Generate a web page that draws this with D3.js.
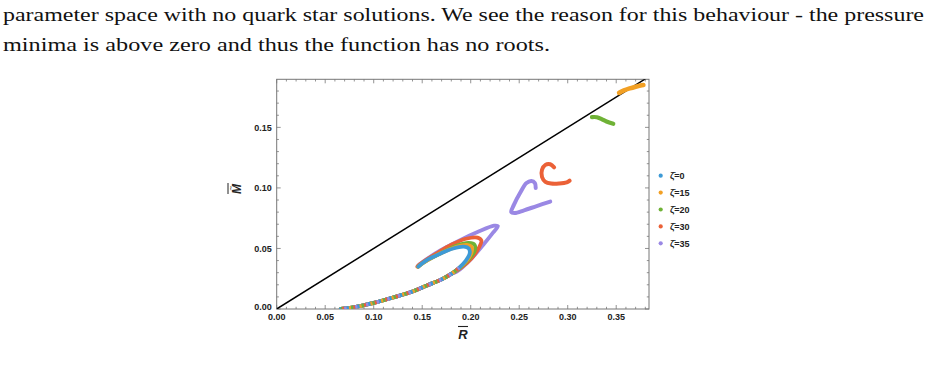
<!DOCTYPE html>
<html><head><meta charset="utf-8">
<script src="https://cdn.jsdelivr.net/npm/d3@7"></script>
<style>body{margin:0;background:#fff}svg{display:block}</style>
</head><body>
<svg id="c" width="929" height="374"></svg>
<script>
// ---- data ----
const seriesNames = ["ζ̄=0", "ζ̄=15", "ζ̄=20", "ζ̄=30", "ζ̄=35"];
const seriesColors = ["#3d9ad6", "#f2a024", "#6fb236", "#eb6137", "#9a88e4"];
const xTicks = [0, 0.05, 0.10, 0.15, 0.20, 0.25, 0.30, 0.35];
const yTicks = [0, 0.05, 0.10, 0.15];
const lineR = [0, 0.38];
const lineM = [0, 0.19];

// shared lower branch
const baseR = [0.066, 0.08, 0.10, 0.12, 0.14, 0.155, 0.17, 0.18];
const baseM = [0.000, 0.0015, 0.005, 0.0095, 0.0145, 0.0195, 0.0245, 0.029];

// zeta = 0 (blue)
const z0R = [0.188, 0.195, 0.199, 0.198, 0.193, 0.182, 0.168, 0.156, 0.149, 0.146];
const z0M = [0.034, 0.040, 0.046, 0.050, 0.0515, 0.050, 0.0455, 0.041, 0.037, 0.035];
// zeta = 15 (orange)
const z15R = [0.188, 0.196, 0.201, 0.201, 0.196, 0.184, 0.169, 0.157, 0.149, 0.146];
const z15M = [0.034, 0.040, 0.047, 0.051, 0.053, 0.051, 0.046, 0.041, 0.037, 0.035];
const z15bR = [0.353, 0.358, 0.364, 0.370, 0.375, 0.378];
const z15bM = [0.1785, 0.1805, 0.1822, 0.1836, 0.1846, 0.1850];
// zeta = 20 (green)
const z20R = [0.189, 0.198, 0.204, 0.204, 0.198, 0.186, 0.170, 0.157, 0.149, 0.146];
const z20M = [0.034, 0.041, 0.048, 0.053, 0.0545, 0.0525, 0.0465, 0.041, 0.037, 0.035];
const z20bR = [0.325, 0.330, 0.335, 0.340, 0.347];
const z20bM = [0.1585, 0.1584, 0.1568, 0.1548, 0.1530];
// zeta = 30 (red)
const z30R = [0.190, 0.201, 0.208, 0.211, 0.207, 0.195, 0.180, 0.165, 0.153, 0.147, 0.145];
const z30M = [0.034, 0.042, 0.050, 0.0565, 0.0590, 0.0580, 0.053, 0.046, 0.040, 0.0365, 0.035];
const z30bR = [0.286, 0.282, 0.277, 0.2735, 0.2735, 0.277, 0.283, 0.291, 0.299, 0.302];
const z30bM = [0.1170, 0.1195, 0.1190, 0.1150, 0.1090, 0.1050, 0.1036, 0.1036, 0.1045, 0.1060];
// zeta = 35 (purple)
const z35R = [0.186, 0.200, 0.213, 0.223, 0.228, 0.224, 0.207, 0.188, 0.170, 0.157, 0.149, 0.146];
const z35M = [0.031, 0.041, 0.053, 0.063, 0.0685, 0.0688, 0.0635, 0.0565, 0.049, 0.0425, 0.038, 0.036];
const z35bR = [0.2670, 0.2662, 0.2625, 0.2575, 0.2510, 0.2445, 0.2418, 0.2455, 0.2550, 0.2680, 0.2820];
const z35bM = [0.1000, 0.1040, 0.1057, 0.1040, 0.0960, 0.0860, 0.0800, 0.0793, 0.0815, 0.0850, 0.0887];

// ---- drawing ----
const svg = d3.select("#c");
const L = 276.7, R = 649, T = 79.3, B = 309;
const x = d3.scaleLinear().domain([0, 0.3838]).range([L, R]);
const y = d3.scaleLinear().domain([0, 0.1897]).range([B, T]);

// top paragraph text
const para = svg.append("g").attr("font-family", "'Liberation Serif','Times New Roman',serif")
  .attr("font-size", 18.5).attr("fill", "#111");
para.append("text").attr("x", 3).attr("y", 21).attr("textLength", 921).attr("lengthAdjust", "spacingAndGlyphs")
  .text("parameter space with no quark star solutions. We see the reason for this behaviour - the pressure");
para.append("text").attr("x", 3).attr("y", 51).attr("textLength", 547).attr("lengthAdjust", "spacingAndGlyphs")
  .text("minima is above zero and thus the function has no roots.");

// frame
svg.append("rect").attr("x", L).attr("y", T).attr("width", R - L).attr("height", B - T)
  .attr("fill", "none").attr("stroke", "#777").attr("stroke-width", 1);

// ticks (inward, all sides)
const tk = svg.append("g").attr("stroke", "#777").attr("stroke-width", 0.8);
const xMinor = d3.range(0, 0.3801, 0.01);
xMinor.forEach(v => {
  const major = Math.abs(Math.round(v * 20) - v * 20) < 1e-6;
  const len = major ? 4 : 2.2;
  tk.append("line").attr("x1", x(v)).attr("x2", x(v)).attr("y1", B).attr("y2", B - len);
  tk.append("line").attr("x1", x(v)).attr("x2", x(v)).attr("y1", T).attr("y2", T + len);
});
const yMinor = d3.range(0, 0.1851, 0.01);
yMinor.forEach(v => {
  const major = Math.abs(Math.round(v * 20) - v * 20) < 1e-6;
  const len = major ? 4 : 2.2;
  tk.append("line").attr("y1", y(v)).attr("y2", y(v)).attr("x1", L).attr("x2", L + len);
  tk.append("line").attr("y1", y(v)).attr("y2", y(v)).attr("x1", R).attr("x2", R - len);
});

// tick labels
const lab = svg.append("g").attr("font-family", "'Liberation Sans',Arial,sans-serif")
  .attr("font-size", 9).attr("font-weight", "bold").attr("fill", "#222");
xTicks.forEach(v => {
  lab.append("text").attr("x", x(v)).attr("y", B + 11).attr("text-anchor", "middle").text(v.toFixed(2));
});
yTicks.forEach(v => {
  lab.append("text").attr("x", L - 5).attr("y", y(v) + (v === 0 ? 1 : 3.2)).attr("text-anchor", "end").text(v.toFixed(2));
});

// axis labels
svg.append("text").attr("x", 463).attr("y", 339).attr("text-anchor", "middle")
  .attr("font-family", "'Liberation Sans',Arial,sans-serif").attr("font-size", 13)
  .attr("font-style", "italic").attr("font-weight", "bold").attr("fill", "#222").text("R");
svg.append("line").attr("x1", 458).attr("x2", 468).attr("y1", 326.5).attr("y2", 326.5)
  .attr("stroke", "#222").attr("stroke-width", 1.1);
const yl = svg.append("g").attr("transform", "translate(241,189) rotate(-90)");
yl.append("text").attr("x", 0).attr("y", 0).attr("text-anchor", "middle")
  .attr("font-family", "'Liberation Sans',Arial,sans-serif").attr("font-size", 12)
  .attr("font-style", "italic").attr("font-weight", "bold").attr("fill", "#222").text("M");
yl.append("text").attr("x", 1).attr("y", -8.5).attr("text-anchor", "middle")
  .attr("font-family", "'DejaVu Sans',sans-serif").attr("font-size", 7).attr("fill", "#222").text("~");
yl.append("line").attr("x1", -5).attr("x2", 6).attr("y1", -13).attr("y2", -13)
  .attr("stroke", "#222").attr("stroke-width", 1);

// clip
svg.append("clipPath").attr("id", "clip").append("rect")
  .attr("x", L).attr("y", T).attr("width", R - L).attr("height", B - T);
const plot = svg.append("g").attr("clip-path", "url(#clip)");

const line = d3.line().x(d => x(d[0])).y(d => y(d[1])).curve(d3.curveCatmullRom.alpha(0.5));
const zip = (a, b) => a.map((v, i) => [v, b[i]]);

// reference line
plot.append("path").datum(zip(lineR, lineM)).attr("d", d3.line().x(d => x(d[0])).y(d => y(d[1])))
  .attr("stroke", "#000").attr("stroke-width", 1.5).attr("fill", "none");

const mains = [
  [z0R, z0M], [z15R, z15M], [z20R, z20M], [z30R, z30M], [z35R, z35M]
];
const extras = [
  [], [[z15bR, z15bM, 4.6]], [[z20bR, z20bM, 4.2]], [[z30bR, z30bM, 4]], [[z35bR, z35bM, 4]]
];
for (let i = 4; i >= 0; i--) {
  const pts = zip(baseR, baseM).concat(zip(mains[i][0], mains[i][1]));
  plot.append("path").datum(pts).attr("d", line).attr("fill", "none")
    .attr("stroke", seriesColors[i]).attr("stroke-width", 3.8).attr("stroke-linecap", "round").attr("stroke-linejoin", "round");
  extras[i].forEach(e => {
    plot.append("path").datum(zip(e[0], e[1])).attr("d", line).attr("fill", "none")
      .attr("stroke", seriesColors[i]).attr("stroke-width", e[2]).attr("stroke-linecap", "round").attr("stroke-linejoin", "round");
  });
}
// shared lower branch: alternating colour dashes (overlapping points)
for (let i = 0; i < 5; i++) {
  plot.append("path").datum(zip(baseR, baseM).concat([[z0R[0], z0M[0]]])).attr("d", line).attr("fill", "none")
    .attr("stroke", seriesColors[i]).attr("stroke-width", 3.6)
    .attr("stroke-dasharray", "2.2 8.8").attr("stroke-dashoffset", -2.2 * i + 60);
}

// legend
const lg = svg.append("g");
seriesNames.forEach((n, i) => {
  const yy = 175.7 + i * 16.9;
  lg.append("circle").attr("cx", 660.7).attr("cy", yy).attr("r", 2.1).attr("fill", seriesColors[i]);
  lg.append("text").attr("x", 670).attr("y", yy + 3.2)
    .attr("font-family", "'Liberation Sans',Arial,sans-serif").attr("font-size", 9)
    .attr("font-weight", "bold").attr("fill", "#222").text(n);
});
</script>
</body></html>
